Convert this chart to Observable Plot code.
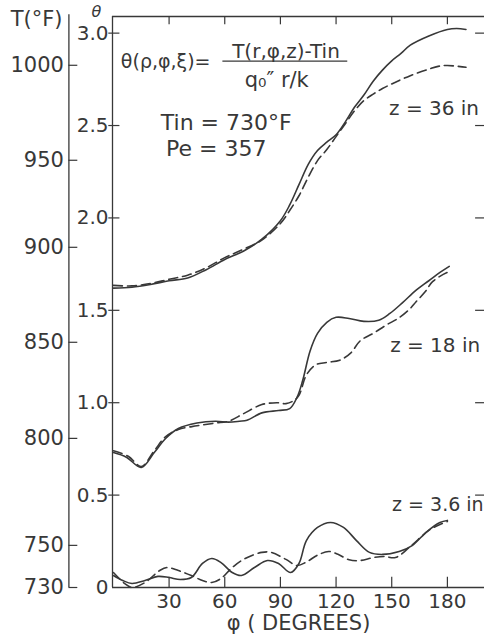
<!DOCTYPE html>
<html>
<head>
<meta charset="utf-8">
<script src="https://cdn.jsdelivr.net/npm/d3@7"></script>
<script src="https://cdn.jsdelivr.net/npm/@observablehq/plot@0.6"></script>
<style>
  html, body { margin: 0; padding: 0; background: #fff; }
  #chart svg { display: block; }
</style>
</head>
<body>
<div id="chart"></div>
<script>
// ---- data (phi in degrees, theta dimensionless) ----
const phi36Solid   = [0,10,20,30,40,50,60,70,80,90,95,100,105,110,115,120,125,130,135,140,145,150,155,160,170,180,185,190];
const theta36Solid = [1.62,1.625,1.64,1.66,1.675,1.72,1.775,1.82,1.885,1.985,2.07,2.18,2.29,2.365,2.41,2.45,2.52,2.6,2.665,2.74,2.8,2.85,2.89,2.935,2.985,3.02,3.025,3.02];

const phi36Dashed   = [0,10,20,30,40,50,60,70,80,90,95,100,105,110,115,120,125,130,135,140,145,150,160,170,175,180,190];
const theta36Dashed = [1.635,1.632,1.645,1.668,1.69,1.73,1.785,1.83,1.88,1.97,2.04,2.12,2.22,2.31,2.37,2.44,2.51,2.58,2.635,2.67,2.7,2.725,2.77,2.805,2.82,2.825,2.815];

const phi18Solid   = [0,7,15,22,28,35,45,55,62,68,72,80,89,95,99,102,106,110,115,120,127,135,143,149,156,163,170,176,181];
const theta18Solid = [0.73,0.705,0.65,0.73,0.805,0.86,0.89,0.9,0.895,0.9,0.905,0.945,0.958,0.968,1.03,1.12,1.28,1.375,1.435,1.462,1.456,1.44,1.446,1.483,1.543,1.608,1.66,1.705,1.738];

const phi18Dashed   = [0,8,15,22,28,35,45,55,62,70,80,88,93,97,100,104,109,115,122,128,133,140,147,154,160,163,168,172,180,182];
const theta18Dashed = [0.74,0.71,0.655,0.74,0.815,0.855,0.875,0.89,0.9,0.94,0.99,1.0,0.995,1.01,1.04,1.15,1.205,1.218,1.23,1.27,1.335,1.375,1.42,1.46,1.51,1.545,1.6,1.655,1.705,1.71];

const phi36inSolid   = [0,5,10,17,24,30,36,42,48,53,58,64,69,76,83,89,95.5,100,104,110,117,124,131,138,145,154,161,169,176,180];
const theta36inSolid = [0.065,0.038,0.022,0.038,0.06,0.054,0.043,0.054,0.13,0.157,0.135,0.081,0.065,0.108,0.146,0.13,0.081,0.13,0.254,0.325,0.352,0.325,0.254,0.19,0.179,0.195,0.227,0.303,0.352,0.363];

const phi36inDashed   = [0,6,10,17,25,29,35,42,48,53,58,64,71,80,85,93,99,104,110,116,121,127,133,140,146,152,160,170,176,180];
const theta36inDashed = [0.081,0.022,0.0,0.027,0.092,0.108,0.092,0.065,0.038,0.027,0.049,0.108,0.157,0.19,0.19,0.152,0.119,0.138,0.175,0.195,0.18,0.15,0.146,0.162,0.168,0.162,0.222,0.309,0.341,0.357];

// ---- axis ticks ----
const phiTicks = [30, 60, 90, 120, 150, 180];
const thetaTicks = [0, 0.5, 1.0, 1.5, 2.0, 2.5, 3.0];
const thetaTickLabels = ["0", "0.5", "1.0", "1.5", "2.0", "2.5", "3.0"];
const tempTicks = [730, 750, 800, 850, 900, 950, 1000];
const tempTickTheta = [0, 0.228, 0.807, 1.327, 1.841, 2.312, 2.826]; // θ level of each T tick as read

// ---- build tables ----
function series(name, style, phis, thetas) {
  return phis.map((p, i) => ({curve: name, style, phi: p, theta: thetas[i]}));
}
const solidRows = [
  ...series("z36", "solid", phi36Solid, theta36Solid),
  ...series("z18", "solid", phi18Solid, theta18Solid),
  ...series("z3.6", "solid", phi36inSolid, theta36inSolid)
];
const dashedRows = [
  ...series("z36", "dashed", phi36Dashed, theta36Dashed),
  ...series("z18", "dashed", phi18Dashed, theta18Dashed),
  ...series("z3.6", "dashed", phi36inDashed, theta36inDashed)
];
const thetaRows = thetaTicks.map((t, i) => ({theta: t, label: thetaTickLabels[i]}));
const tempRows = tempTicks.map((t, i) => ({T: t, theta: tempTickTheta[i]}));

const ink = "#383838";
const xMin = -0.5, xMax = 200, yMax = 3.09;
const tAxisPhi = -24;   // φ-units offset of the temperature axis line

const chart = Plot.plot({
  width: 484,
  height: 644,
  marginLeft: 112,
  marginRight: 0,
  marginTop: 16,
  marginBottom: 57,
  x: {domain: [xMin, xMax], axis: null},
  y: {domain: [0, yMax], axis: null},
  style: {fontFamily: "DejaVu Sans, sans-serif", color: ink, background: "#fff", overflow: "visible"},
  marks: [
    // frame lines
    Plot.ruleX([xMin], {y1: 0, y2: yMax, stroke: ink, strokeWidth: 1.3}),
    Plot.ruleY([0], {x1: xMin, x2: xMax, stroke: ink, strokeWidth: 1.3}),
    Plot.ruleY([yMax], {x1: xMin, x2: xMax, stroke: ink, strokeWidth: 1.3}),
    // phi ticks (inward, bottom and top)
    Plot.ruleX(phiTicks, {x: d => d, y1: 0, y2: 0.055, stroke: ink, strokeWidth: 1.2}),
    Plot.ruleX(phiTicks, {x: d => d, y1: yMax, y2: yMax - 0.045, stroke: ink, strokeWidth: 1.2}),
    Plot.text(phiTicks, {x: d => d, y: 0, dy: 14, text: d => String(d), fontSize: 20, fill: ink}),
    // theta ticks (left, crossing) and right inward ticks
    Plot.ruleY(thetaRows.filter(d => d.theta > 0), {y: "theta", x1: -2.5, x2: 3.5, stroke: ink, strokeWidth: 1.2}),
    Plot.ruleY(thetaRows.filter(d => d.theta > 0), {y: "theta", x1: 195.2, x2: xMax, stroke: ink, strokeWidth: 1.2}),
    Plot.text(thetaRows, {x: xMin, y: "theta", text: "label", textAnchor: "end", dx: -4, fontSize: 20, fill: ink}),
    // temperature axis
    Plot.ruleX([tAxisPhi], {y1: 0, y2: yMax + 0.01, stroke: ink, strokeWidth: 1.3}),
    Plot.ruleY(tempRows, {y: "theta", x1: tAxisPhi, x2: tAxisPhi + 4.8, stroke: ink, strokeWidth: 1.2}),
    Plot.text(tempRows, {x: tAxisPhi, y: "theta", text: d => String(d.T), textAnchor: "end", dx: -5, fontSize: 21, letterSpacing: 1.2, fill: ink}),
    // axis titles
    Plot.text(["T(°F)"], {frameAnchor: "top-left", lineAnchor: "middle", dx: -50, dy: 3, text: d => d, textAnchor: "end", fontSize: 21, letterSpacing: 1, fill: ink}),
    Plot.text(["θ"], {frameAnchor: "top-left", lineAnchor: "middle", dx: -21, dy: -5, text: d => d, fontSize: 16, fontStyle: "italic", fill: ink}),
    Plot.text(["φ ( DEGREES)"], {frameAnchor: "bottom", dy: 42, text: d => d, fontSize: 21, letterSpacing: 1.5, fill: ink}),
    // curves
    Plot.line(solidRows, {x: "phi", y: "theta", z: "curve", curve: "catmull-rom", stroke: ink, strokeWidth: 1.6}),
    Plot.line(dashedRows, {x: "phi", y: "theta", z: "curve", curve: "catmull-rom", stroke: ink, strokeWidth: 1.6, strokeDasharray: "9,5"}),
    // annotations
    Plot.text(["θ(ρ,φ,ξ)="], {x: 4, y: 2.843, text: d => d, textAnchor: "start", fontSize: 19, fill: ink}),
    Plot.text(["T(r,φ,z)-Tin"], {x: 93, y: 2.9, text: d => d, fontSize: 20, fill: ink}),
    Plot.ruleY([2.848], {x1: 59, x2: 126.3, stroke: ink, strokeWidth: 1.3}),
    Plot.text(["q₀″ r/k"], {x: 88, y: 2.745, text: d => d, fontSize: 21, fill: ink}),
    Plot.text(["Tin = 730°F"], {x: 60.8, y: 2.512, text: d => d, fontSize: 22, fill: ink}),
    Plot.text(["Pe = 357"], {x: 55.4, y: 2.371, text: d => d, fontSize: 22, fill: ink}),
    Plot.text(["z = 36 in"], {x: 172.8, y: 2.593, text: d => d, fontSize: 20, fill: ink}),
    Plot.text(["z = 18 in"], {x: 173.4, y: 1.31, text: d => d, fontSize: 20, fill: ink}),
    Plot.text(["z = 3.6 in"], {x: 150.2, y: 0.449, text: d => d, textAnchor: "start", fontSize: 19, letterSpacing: -0.6, fill: ink})
  ]
});
document.getElementById("chart").appendChild(chart);
</script>
</body>
</html>
